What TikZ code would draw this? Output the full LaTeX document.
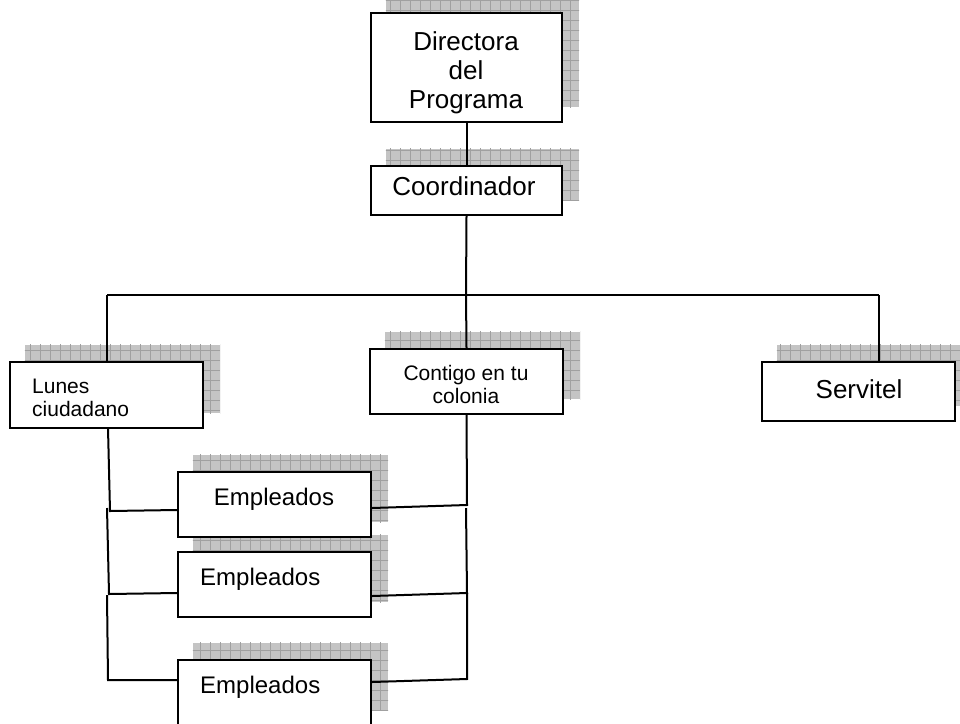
\documentclass[tikz,border=0pt]{standalone}
\usepackage{fontspec}
\setmainfont{Liberation Sans}
\usetikzlibrary{backgrounds}
\definecolor{shadefill}{RGB}{196,196,196}
\definecolor{shadegrid}{RGB}{160,160,160}
\tikzset{
  box/.style={draw=black, line width=2.4pt, fill=white, rectangle, inner sep=0pt},
  link/.style={draw=black, line width=2pt},
  lbl/.style={inner sep=0pt, anchor=base, align=center},
  big/.style={font=\fontsize{26}{29}\selectfont},
  mid/.style={font=\fontsize{24}{28}\selectfont},
  small/.style={font=\fontsize{21}{23}\selectfont},
}
% grid-textured drop shadow behind a box node
\newcommand{\gridshadow}[1]{%
  \begin{scope}
    \clip ([shift={(16pt,16pt)}]#1.south west) rectangle ([shift={(16pt,16pt)}]#1.north east);
    \fill[shadefill] ([shift={(16pt,16pt)}]#1.south west) rectangle ([shift={(16pt,16pt)}]#1.north east);
    \draw[shadegrid, line width=0.8pt, step=10pt] ([shift={(6pt,6pt)}]#1.south west) grid ([shift={(26pt,26pt)}]#1.north east);
  \end{scope}}
\begin{document}
\begin{tikzpicture}[x=1pt, y=-1pt]
\clip (0,0) rectangle (960,723);

% boxes
\node[box, minimum width=191pt, minimum height=109pt] (dir) at (466.5,67.5) {};
\node[box, minimum width=191pt, minimum height=49pt] (coord) at (466.5,190.5) {};
\node[box, minimum width=193pt, minimum height=66pt] (lunes) at (106.5,395) {};
\node[box, minimum width=193pt, minimum height=65pt] (contigo) at (466.5,381.5) {};
\node[box, minimum width=193pt, minimum height=59pt] (servitel) at (858.5,391.5) {};
\node[box, minimum width=193pt, minimum height=65pt] (emp1) at (274.5,504.5) {};
\node[box, minimum width=193pt, minimum height=65pt] (emp2) at (274.5,584.5) {};
\node[box, minimum width=193pt, minimum height=65pt] (emp3) at (274.5,692.5) {};

\begin{scope}[on background layer]
  \fill[white] (0,0) rectangle (960,723);
  \gridshadow{dir}
  \gridshadow{coord}
  \gridshadow{lunes}
  \gridshadow{contigo}
  \gridshadow{servitel}
  \gridshadow{emp1}
  \gridshadow{emp2}
  \gridshadow{emp3}
\end{scope}

% labels
\begin{scope}
  \clip (dir.south west) rectangle (dir.north east);
  \node[lbl, big] (tdir1) at (466,50) {Directora};
  \node[lbl, big] (tdir2) at (466,79) {del};
  \node[lbl, big] (tdir3) at (466,108) {Programa};
\end{scope}
\node[lbl, big] (tcoord) at (464,195) {Coordinador};
\node[lbl, small, anchor=base west] (tlun1) at (32,393) {Lunes};
\node[lbl, small, anchor=base west] (tlun2) at (32,416) {ciudadano};
\node[lbl, small] (tcon1) at (466,380) {Contigo en tu};
\node[lbl, small] (tcon2) at (466,403) {colonia};
\node[lbl, big] (tserv) at (859,398) {Servitel};
\node[lbl, mid] (temp1) at (274,505) {Empleados};
\node[lbl, mid, anchor=base west] (temp2) at (200,585) {Empleados};
\node[lbl, mid, anchor=base west] (temp3) at (200,693) {Empleados};

% connector junctions
\coordinate (bus) at (466,295);
\coordinate (busL) at (107,295);
\coordinate (busR) at (879,295);
\coordinate (la) at (108,428);
\coordinate (lb) at (110,511);
\coordinate (lc) at (107,508);
\coordinate (ld) at (109,594);
\coordinate (le) at (107,595);
\coordinate (lf) at (108,680);
\coordinate (ra) at (467,505);
\coordinate (rb) at (466,508);
\coordinate (rc) at (467,593);
\coordinate (rd) at (467,679);

% hierarchy links
\draw[link] (dir.south) -- (coord.north);
\draw[link] (coord.south) -- (bus);
\draw[link] (busL) -- (busR);
\draw[link] (busL) -- (busL |- lunes.north);
\draw[link] (bus) -- (contigo.north);
\draw[link] (busR) -- (busR |- servitel.north);

% left comb to employees
\draw[link] (la) -- (lb) -- ([yshift=-5.5pt]emp1.west);
\draw[link] (lc) -- (ld) -- ([yshift=-88.5pt]emp1.west);
\draw[link] (le) -- (lf) -- ([yshift=12.5pt]emp3.west);

% right comb to employees
\draw[link] (contigo.south) -- (ra) -- ([yshift=-3.5pt]emp1.east);
\draw[link] (rb) -- (rc) -- ([yshift=-11.5pt]emp2.east);
\draw[link] (rc) -- (rd) -- ([yshift=10.5pt]emp3.east);
\end{tikzpicture}
\end{document}
